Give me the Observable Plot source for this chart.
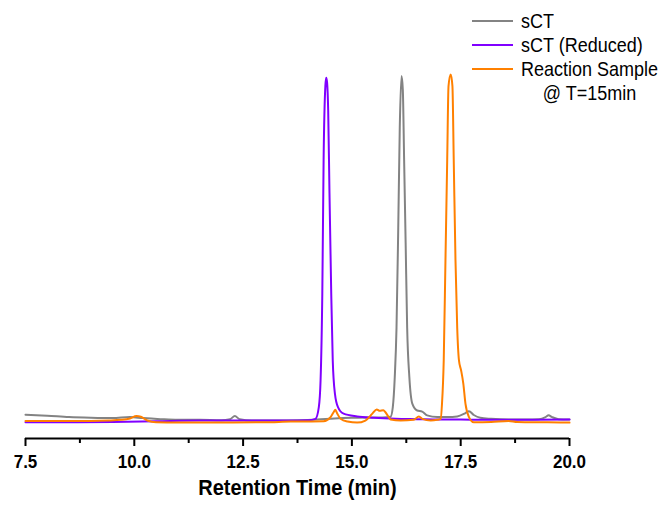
<!DOCTYPE html>
<html>
<head>
<meta charset="utf-8">
<script src="https://cdn.jsdelivr.net/npm/d3@7"></script>
<script src="https://cdn.jsdelivr.net/npm/@observablehq/plot@0.6"></script>
<style>
  html, body { margin: 0; padding: 0; background: #fff; }
  #wrap { position: relative; width: 670px; height: 506px; font-family: "Liberation Sans", Arial, sans-serif; }
  #legend { position: absolute; left: 472px; top: 9px; font-size: 18px; color: #000; }
  .row { display: flex; align-items: flex-start; line-height: 24px; }
  .sw { width: 41px; height: 24px; position: relative; margin-right: 8px; flex: none; }
  .sw::after { content: ""; position: absolute; left: 0; right: 0; top: 11px; height: 2.2px; background: var(--c); }
  .lbl { text-align: center; white-space: nowrap; }
  .lbl div { transform: scaleY(1.12); transform-origin: center; }
</style>
</head>
<body>
<div id="wrap"><div id="legend"></div></div>
<script>
// Retention times (min) and detector response (% of peak) for each run
const sctTime = [7.5, 8.0, 8.5, 9.0, 9.5, 9.9, 10.2, 10.6, 11.0, 11.5, 12.0, 12.2, 12.31, 12.42, 12.7, 13.2, 13.8, 14.2, 14.6, 15.0, 15.4, 15.7, 15.887, 15.94, 15.985, 16.025, 16.065, 16.10, 16.14, 16.17, 16.20, 16.235, 16.27, 16.32, 16.39, 16.50, 16.615, 16.73, 16.96, 17.2, 17.42, 17.6, 17.69, 17.8, 17.95, 18.2, 18.6, 19.0, 19.3, 19.45, 19.52, 19.6, 19.75, 20.0];
const sctSignal = [1.9, 1.6, 1.2, 1.0, 0.9, 1.2, 0.9, 0.6, 0.4, 0.4, 0.3, 0.6, 1.5, 0.6, 0.2, 0.2, 0.3, 0.5, 0.8, 1.0, 1.1, 1.1, 1.3, 4.1, 12.8, 27, 56, 85, 99.9, 96, 75.7, 51.6, 27, 12.8, 5, 3.1, 2.8, 1.7, 1.2, 1.2, 1.4, 2.3, 2.9, 1.8, 1.0, 0.7, 0.5, 0.5, 0.6, 1.2, 1.7, 1.2, 0.6, 0.5];

const reducedTime = [7.5, 8.5, 9.5, 10.5, 11.5, 12.5, 13.5, 14.0, 14.163, 14.24, 14.28, 14.32, 14.35, 14.39, 14.41, 14.43, 14.455, 14.485, 14.525, 14.56, 14.61, 14.68, 14.81, 15.12, 15.5, 16.0, 16.5, 17.0, 17.5, 18.0, 19.0, 20.0];
const reducedSignal = [-0.3, -0.3, -0.2, 0.0, 0.2, 0.2, 0.2, 0.3, 0.7, 4.1, 11.8, 37, 75.7, 97, 99.4, 98, 90, 66, 37, 17.6, 8, 4.1, 2.2, 1.4, 1.0, 0.7, 0.6, 0.5, 0.5, 0.4, 0.4, 0.5];

const reactionTime = [7.5, 8.0, 8.5, 9.0, 9.4, 9.7, 9.9, 10.05, 10.15, 10.3, 10.5, 11.0, 12.0, 13.0, 13.6, 14.35, 14.51, 14.58, 14.62, 14.66, 14.74, 14.9, 15.12, 15.31, 15.47, 15.57, 15.64, 15.72, 15.82, 15.89, 16.12, 16.42, 16.54, 16.62, 16.81, 16.96, 17.04, 17.07, 17.11, 17.15, 17.19, 17.22, 17.27, 17.31, 17.34, 17.38, 17.42, 17.46, 17.51, 17.56, 17.61, 17.69, 17.8, 18.2, 18.6, 18.8, 19.5, 20.0];
const reactionSignal = [0.1, 0.1, 0.1, 0.1, 0.2, 0.4, 0.8, 1.5, 1.3, 0.2, -0.3, -0.4, -0.4, -0.3, -0.1, 0.0, 1.2, 2.6, 3.3, 2.3, 0.7, -0.1, -0.4, 0.2, 2.2, 3.4, 3.0, 3.2, 1.7, 0.5, 0.2, 0.4, 1.4, 0.7, 0.2, 0.4, 0.7, 5, 17.6, 46.7, 75.7, 97, 100.4, 97, 75.7, 46.7, 27, 17.6, 14.7, 10.9, 5, 1.2, -0.3, -0.2, 0.1, -0.2, -0.3, -0.4];

// Axis ticks
const majorTicks = [7.5, 10.0, 12.5, 15.0, 17.5, 20.0];
const minorTicks = [8.75, 11.25, 13.75, 16.25, 18.75];

const seriesNames = ["sCT", "sCT (Reduced)", "Reaction Sample\n@ T=15min"];
const seriesColors = ["#838383", "#8000ff", "#ff8000"];
const xTitle = "Retention Time (min)";

const yDomain = [-5, 105];

const chart = Plot.plot({
  width: 670,
  height: 506,
  marginLeft: 25,
  marginRight: 101,
  marginTop: 58,
  marginBottom: 68,
  style: { fontFamily: "'Liberation Sans', Arial, sans-serif", fontSize: "17px", fontWeight: "bold", color: "#000", background: "transparent" },
  x: { domain: [7.5, 20] },
  y: { domain: yDomain, axis: null },
  marks: [
    Plot.ruleY([yDomain[0]], { stroke: "#000", strokeWidth: 2 }),
    Plot.axisX(majorTicks, { tickSize: 8, tickPadding: 8, strokeWidth: 2, tickFormat: d => d.toFixed(1), label: null }),
    Plot.axisX(minorTicks, { tickSize: 5, strokeWidth: 2, text: null, label: null }),
    Plot.line(sctSignal, { x: sctTime, y: sctSignal, stroke: seriesColors[0], strokeWidth: 2, curve: "monotone-x" }),
    Plot.line(reducedSignal, { x: reducedTime, y: reducedSignal, stroke: seriesColors[1], strokeWidth: 2, curve: "monotone-x" }),
    Plot.line(reactionSignal, { x: reactionTime, y: reactionSignal, stroke: seriesColors[2], strokeWidth: 2, curve: "monotone-x" }),
    Plot.text([xTitle], { frameAnchor: "bottom", dy: 56, fontSize: 20, fontWeight: "bold", fill: "#000" })
  ]
});

// Slightly taller glyphs for the axis text, stretched about each label's own anchor
chart.querySelectorAll("text").forEach(t => {
  const tr = t.getAttribute("transform");
  if (tr) {
    t.setAttribute("transform", tr + " scale(1,1.12)");
  } else {
    const x = +(t.getAttribute("x") || 0), y = +(t.getAttribute("y") || 0);
    t.setAttribute("transform", `translate(${x},${y}) scale(1,1.12) translate(${-x},${-y})`);
  }
});

const wrap = document.getElementById("wrap");
wrap.insertBefore(chart, wrap.firstChild);

// Legend in the upper right corner
const legend = document.getElementById("legend");
seriesNames.forEach((name, i) => {
  const row = document.createElement("div");
  row.className = "row";
  const sw = document.createElement("div");
  sw.className = "sw";
  sw.style.setProperty("--c", seriesColors[i]);
  const lbl = document.createElement("div");
  lbl.className = "lbl";
  name.split("\n").forEach(line => {
    const d = document.createElement("div");
    d.textContent = line;
    lbl.appendChild(d);
  });
  row.appendChild(sw);
  row.appendChild(lbl);
  legend.appendChild(row);
});
</script>
</body>
</html>
